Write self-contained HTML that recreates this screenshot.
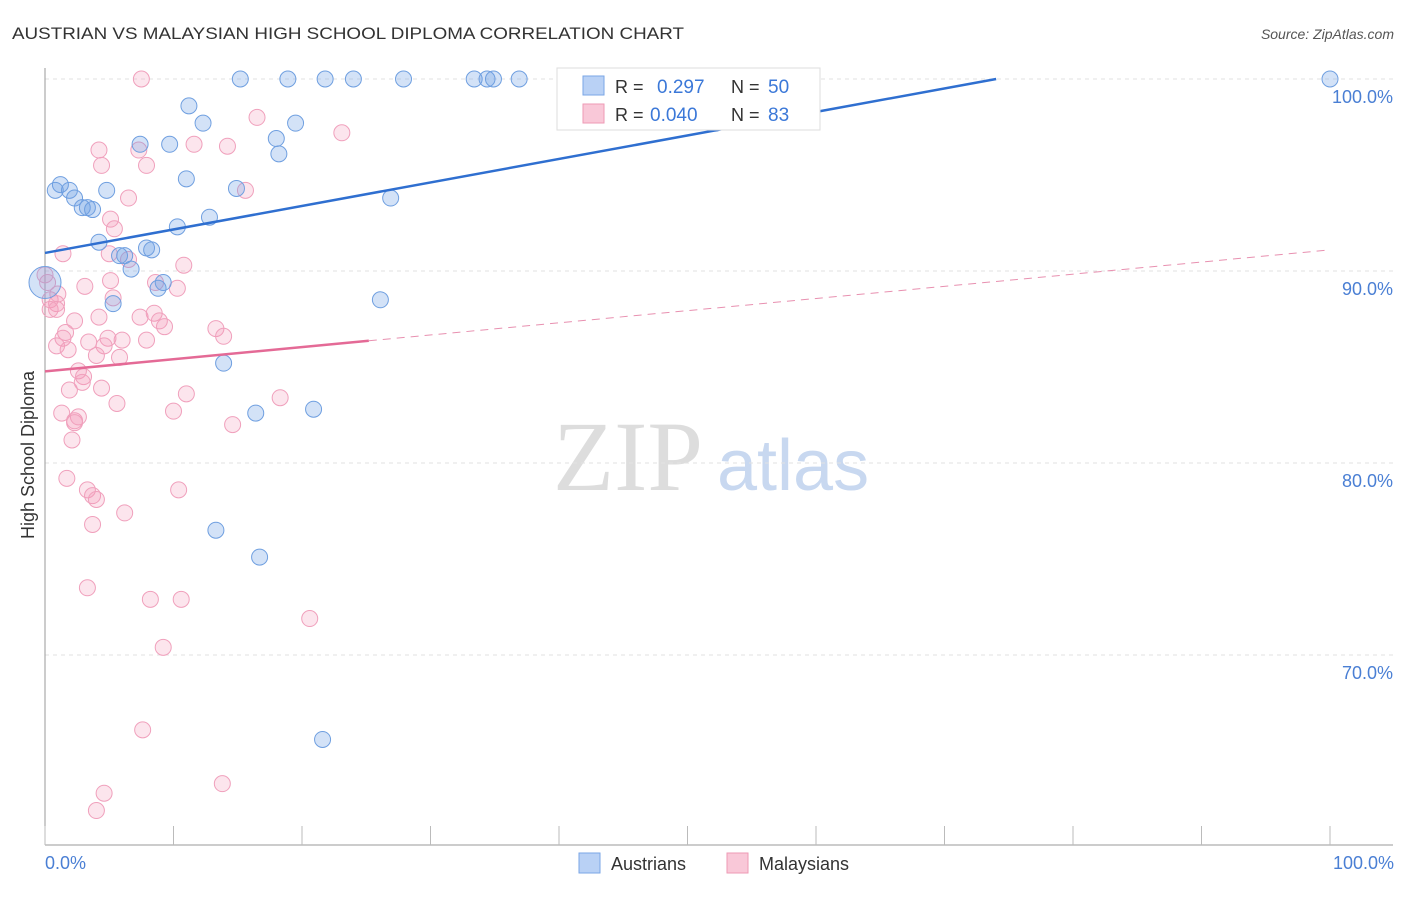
<!DOCTYPE html>
<html><head><meta charset="utf-8"><style>
body{margin:0;background:#fff;font-family:"Liberation Sans",sans-serif}
</style></head><body>
<svg id="chart" width="1406" height="892" xmlns="http://www.w3.org/2000/svg" font-family="Liberation Sans, sans-serif">
<text x="12" y="39" font-size="17" fill="#333" textLength="672" lengthAdjust="spacingAndGlyphs">AUSTRIAN VS MALAYSIAN HIGH SCHOOL DIPLOMA CORRELATION CHART</text>
<text x="1394" y="39" font-size="14" fill="#555" font-style="italic" text-anchor="end">Source: ZipAtlas.com</text>
<g>
<text x="553" y="490" font-size="100" fill="#ddd" style="font-family:'Liberation Serif',serif">ZIP</text>
<text x="717" y="490" font-size="72" fill="#c8d8f0">atlas</text>
</g>
<g id="grid"></g>
<g id="axes"></g>
<g id="pts"></g>
<g id="trend"></g>
<text transform="translate(34,455) rotate(-90)" font-size="18" fill="#333" text-anchor="middle">High School Diploma</text>
<text x="45" y="869" font-size="18" fill="#4a7fd4">0.0%</text>
<text x="1394" y="869" font-size="18" fill="#4a7fd4" text-anchor="end">100.0%</text>
<g>
<rect x="557" y="68" width="263" height="62" fill="#fff" stroke="#ddd"/>
<rect x="583" y="76" width="21" height="19" fill="#b9d1f5" stroke="#7aa6e6"/>
<rect x="583" y="104" width="21" height="19" fill="#f9c8d8" stroke="#ee9ab5"/>
<text x="615" y="93" font-size="18" fill="#333">R =</text>
<text x="657" y="93" font-size="19" fill="#3b78d8">0.297</text>
<text x="731" y="93" font-size="18" fill="#333">N =</text>
<text x="768" y="93" font-size="19" fill="#3b78d8">50</text>
<text x="615" y="121" font-size="18" fill="#333">R =</text>
<text x="650" y="121" font-size="19" fill="#3b78d8">0.040</text>
<text x="731" y="121" font-size="18" fill="#333">N =</text>
<text x="768" y="121" font-size="19" fill="#3b78d8">83</text>
</g>
<g>
<rect x="579" y="853" width="21" height="20" fill="#b9d1f5" stroke="#7aa6e6"/>
<text x="611" y="870" font-size="18" fill="#333">Austrians</text>
<rect x="727" y="853" width="21" height="20" fill="#f9c8d8" stroke="#ee9ab5"/>
<text x="759" y="870" font-size="18" fill="#333">Malaysians</text>
</g>
</svg>
<script>
const yTicks=[100,90,80,70];
const yTickLabels=["100.0%","90.0%","80.0%","70.0%"];
const xTicks=[0,10,20,30,40,50,60,70,80,90,100];
const blueX=[15.2,18.9,21.8,24.0,27.9,33.4,34.4,34.9,36.9,41.5,47.2,100,11.2,12.3,19.5,7.4,9.7,18.0,18.2,11.0,1.2,0.8,1.9,4.8,14.9,26.9,2.3,2.9,3.3,3.7,12.8,10.3,4.2,7.9,8.3,5.8,6.2,6.7,0,9.2,8.8,5.3,26.1,13.9,16.4,20.9,52.2,13.3,16.7,21.6];
const blueY=[100,100,100,100,100,100,100,100,100,100,100,100,98.6,97.7,97.7,96.6,96.6,96.9,96.1,94.8,94.5,94.2,94.2,94.2,94.3,93.8,93.8,93.3,93.3,93.2,92.8,92.3,91.5,91.2,91.1,90.8,90.8,90.1,89.4,89.4,89.1,88.3,88.5,85.2,82.6,82.8,97.7,76.5,75.1,65.6];
const pinkX=[7.5,16.5,23.1,4.2,7.3,11.6,14.2,4.4,7.9,6.5,15.6,5.1,5.4,1.4,5.0,6.5,10.8,0.2,0.4,0.9,0.4,0.9,3.1,5.1,8.6,10.3,5.3,4.2,7.4,2.3,8.5,8.9,9.3,13.3,13.9,1.6,1.4,4.9,6.0,4.6,7.9,3.4,0.9,1.8,4.0,5.8,2.6,3.0,2.9,4.4,1.9,11.0,5.6,18.3,10.0,1.3,2.3,2.6,2.3,14.6,2.1,1.7,3.3,10.4,3.7,4.0,6.2,3.7,3.3,8.2,10.6,20.6,9.2,7.6,4.6,13.8,4.0,0,1.0];
const pinkY=[100,98.0,97.2,96.3,96.3,96.6,96.5,95.5,95.5,93.8,94.2,92.7,92.2,90.9,90.9,90.6,90.3,89.4,88.5,88.3,88.0,88.0,89.2,89.5,89.4,89.1,88.6,87.6,87.6,87.4,87.8,87.4,87.1,87.0,86.6,86.8,86.5,86.5,86.4,86.1,86.4,86.3,86.1,85.9,85.6,85.5,84.8,84.5,84.2,83.9,83.8,83.6,83.1,83.4,82.7,82.6,82.2,82.4,82.1,82.0,81.2,79.2,78.6,78.6,78.3,78.1,77.4,76.8,73.5,72.9,72.9,71.9,70.4,66.1,62.8,63.3,61.9,89.8,88.8];
const blueTrend=[90.94,0.1224];
const pinkTrend=[84.77,0.0633,25.2];
const NS="http://www.w3.org/2000/svg";
const sx=v=>45+v*12.85, sy=v=>79+(100-v)*19.2;
function mk(tag,at,parent){const e=document.createElementNS(NS,tag);for(const k in at)e.setAttribute(k,at[k]);parent.appendChild(e);return e;}
const grid=document.getElementById('grid'),axes=document.getElementById('axes'),pts=document.getElementById('pts'),tr=document.getElementById('trend');
yTicks.forEach((t,i)=>{
 const l=mk('line',{x1:45,x2:1393,y1:sy(t),y2:sy(t),stroke:'#e2e2e2','stroke-dasharray':'4,4'},grid);
 
 
 const tx=mk('text',{x:1393,y:sy(t)+24,'font-size':18,fill:'#4a7fd4','text-anchor':'end'},axes);
 tx.textContent=yTickLabels[i];
 
 
});
mk('line',{x1:45,x2:45,y1:68,y2:845,stroke:'#999'},axes);
mk('line',{x1:45,x2:1393,y1:845,y2:845,stroke:'#999'},axes);
xTicks.forEach(t=>{
 const l=mk('line',{x1:sx(t),x2:sx(t),y1:826,y2:845,stroke:'#bbb'},axes);
 
 
});
pinkX.forEach((x,i)=>{
 const c=mk('circle',{cx:sx(x),cy:sy(pinkY[i]),r:8,fill:'rgba(244,150,185,0.25)',stroke:'#f0a0bc','stroke-width':1},pts);
 
 
});
blueX.forEach((x,i)=>{
 const big=(x===0&&blueY[i]===89.4);
 const c=mk('circle',{cx:sx(x),cy:sy(blueY[i]),r:big?16:8,fill:'rgba(110,160,230,0.3)',stroke:'#6f9fe0','stroke-width':1},pts);
 
 
});
const bx2=(100-blueTrend[0])/blueTrend[1];
const bl=mk('line',{x1:sx(0),y1:sy(blueTrend[0]),x2:sx(bx2),y2:sy(100),stroke:'#2f6fd0','stroke-width':2.5},tr);


const pe=pinkTrend[2];
const ps=mk('line',{x1:sx(0),y1:sy(pinkTrend[0]),x2:sx(pe),y2:sy(pinkTrend[0]+pinkTrend[1]*pe),stroke:'#e46a96','stroke-width':2.5},tr);


const pd=mk('line',{x1:sx(pe),y1:sy(pinkTrend[0]+pinkTrend[1]*pe),x2:sx(100),y2:sy(pinkTrend[0]+pinkTrend[1]*100),stroke:'#e890b0','stroke-width':1,'stroke-dasharray':'8,6'},tr);


</script>
</body></html>
